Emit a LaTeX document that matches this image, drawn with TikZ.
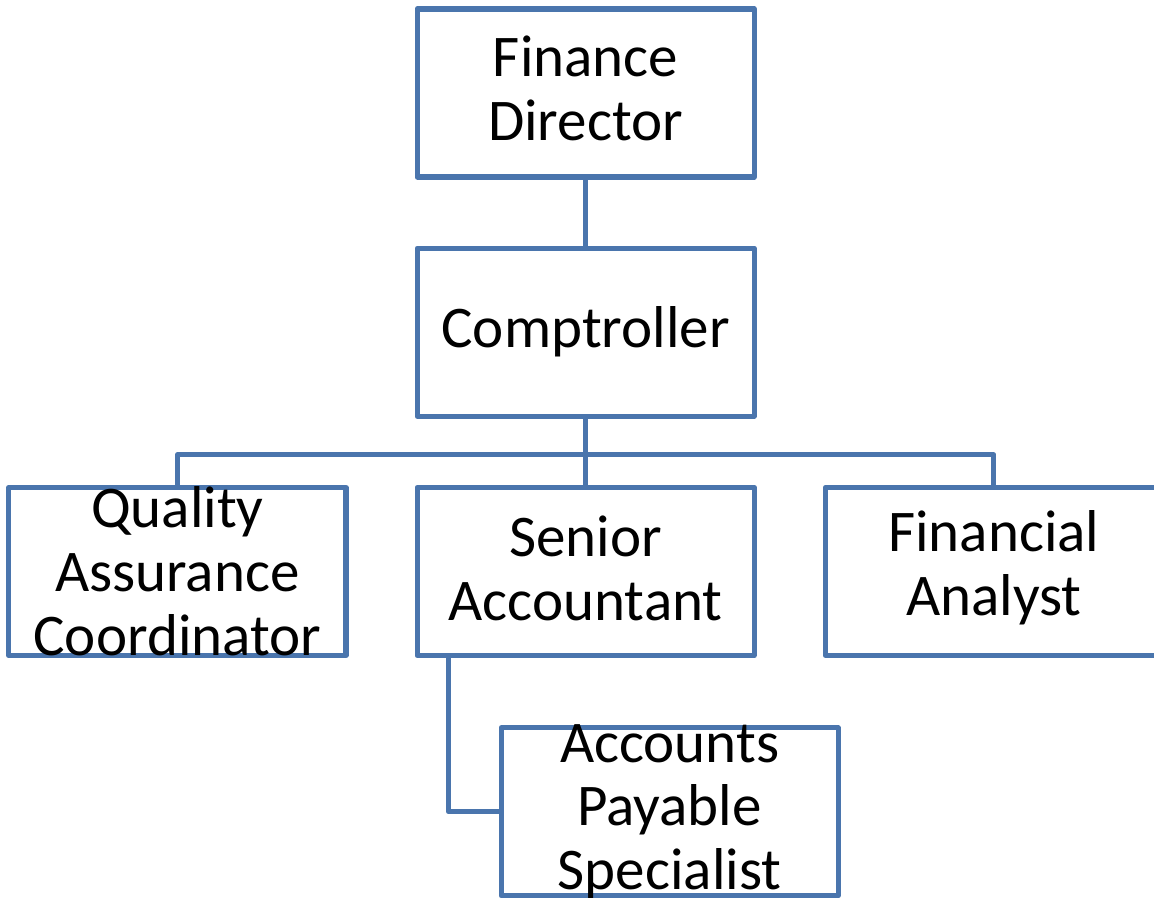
\documentclass[tikz,border=0pt]{standalone}
\usepackage{fontspec}
\setmainfont{Carlito}
\usetikzlibrary{positioning}
\definecolor{Frame}{HTML}{4A75AD}
\tikzset{
  post/.style={draw=Frame,fill=white,line width=1.3mm,line join=round,minimum width=8.425cm,minimum height=4.2cm,inner sep=0pt},
  role/.style={align=center,inner sep=0pt,font=\fontsize{42}{45.5}\selectfont},
  link/.style={draw=Frame,line width=1.3mm,line join=round}
}
\begin{document}
\begin{tikzpicture}[node distance=1.65cm]
  \useasboundingbox (0,0) rectangle (28.85,-22.45);
  % boxes
  \node[post] (fd) at (14.64,-2.325) {};
  \node[post,below=of fd] (comp) {};
  \node[post,below=of comp] (sa) {};
  \node[post,left=of sa] (qa) {};
  \node[post,right=of sa] (fa) {};
  \node[post,below right=1.68cm and 2.1cm of sa.south west,anchor=north west] (aps) {};
  % titles
  \node[role] (fd-t) at ([yshift=0.12cm]fd) {Finance\\Director};
  \node[role] (comp-t) at (comp) {Comptroller};
  \node[role] (sa-t) at ([yshift=0.08cm]sa) {Senior\\Accountant};
  \node[role] (qa-t) at (qa) {Quality\\Assurance\\Coordinator};
  \node[role] (fa-t) at ([yshift=0.08cm]fa) {Financial\\Analyst};
  \node[role] (aps-t) at (aps) {Accounts\\Payable\\Specialist};
  % reporting lines
  \draw[link] (fd) -- (comp);
  \draw[link] (comp.south) -- ++(0,-0.9) coordinate (bus);
  \draw[link] (bus) -| (qa.north);
  \draw[link] (bus) -| (fa.north);
  \draw[link] (bus) -- (sa.north);
  \draw[link] ([xshift=0.85cm]sa.south west) |- (aps.west);
\end{tikzpicture}
\end{document}
